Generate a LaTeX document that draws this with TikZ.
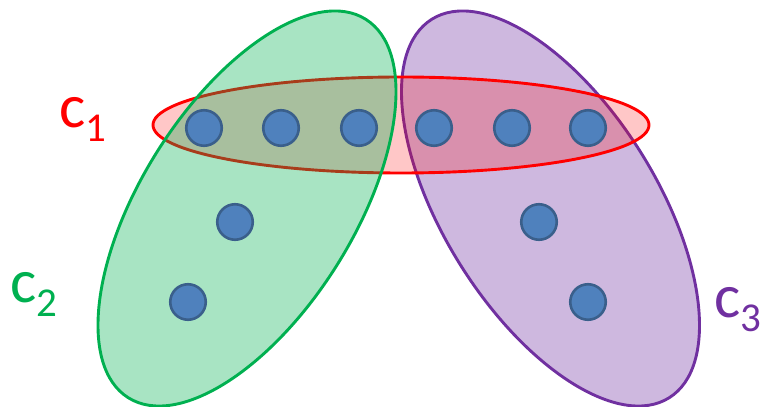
\documentclass[tikz,border=0pt]{standalone}
\usepackage{fontspec}
\setmainfont{Carlito}
\definecolor{cgreen}{HTML}{00B050}
\definecolor{cpurple}{HTML}{7030A0}
\definecolor{cred}{HTML}{FF0000}
\definecolor{dotfill}{HTML}{4F81BD}
\definecolor{dotedge}{HTML}{3A5F8B}
\tikzset{
  clusterline/.style={line width=2.9pt},
  elem/.style={circle, draw=dotedge, fill=dotfill, line width=2.6pt, minimum size=35.5pt, inner sep=0pt},
  clabel/.style={anchor=base west, inner sep=0pt, font=\fontsize{62}{62}\selectfont},
}
\newcommand{\clustername}[1]{c\raisebox{-14pt}{\fontsize{41}{41}\selectfont #1}}
\begin{document}
\begin{tikzpicture}[x=1pt,y=1pt]
  \useasboundingbox (0,0) rectangle (761,407);
  % cluster c3 (purple), lowest layer
  \coordinate (g3) at (550.5,198.5);
  \fill[cpurple, fill opacity=0.34] (g3) ellipse [x radius=223.4, y radius=106.3, rotate=-57.9];
  \draw[cpurple, clusterline] (g3) ellipse [x radius=223.4, y radius=106.3, rotate=-57.9];
  % cluster c1 (red)
  \coordinate (g1) at (401,282);
  \fill[cred, fill opacity=0.22] (g1) ellipse [x radius=248, y radius=48];
  \draw[cred, clusterline] (g1) ellipse [x radius=248, y radius=48];
  % cluster c2 (green), on top
  \coordinate (g2) at (247,198.5);
  \fill[cgreen, fill opacity=0.34] (g2) ellipse [x radius=223.4, y radius=106.3, rotate=57.9];
  \draw[cgreen, clusterline] (g2) ellipse [x radius=223.4, y radius=106.3, rotate=57.9];
  % elements
  \node[elem] (e1) at (204,279) {};
  \node[elem] (e2) at (281,279) {};
  \node[elem] (e3) at (359,279) {};
  \node[elem] (e4) at (434,279) {};
  \node[elem] (e5) at (512,279) {};
  \node[elem] (e6) at (588,279) {};
  \node[elem] (e7) at (235,185) {};
  \node[elem] (e8) at (188,105) {};
  \node[elem] (e9) at (539,185) {};
  \node[elem] (e10) at (588,105) {};
  % cluster names
  \node[clabel, text=cred] (l1) at (59,279) {\clustername{1}};
  \node[clabel, text=cgreen] (l2) at (10,104) {\clustername{2}};
  \node[clabel, text=cpurple] (l3) at (714,89) {\clustername{3}};
\end{tikzpicture}
\end{document}
